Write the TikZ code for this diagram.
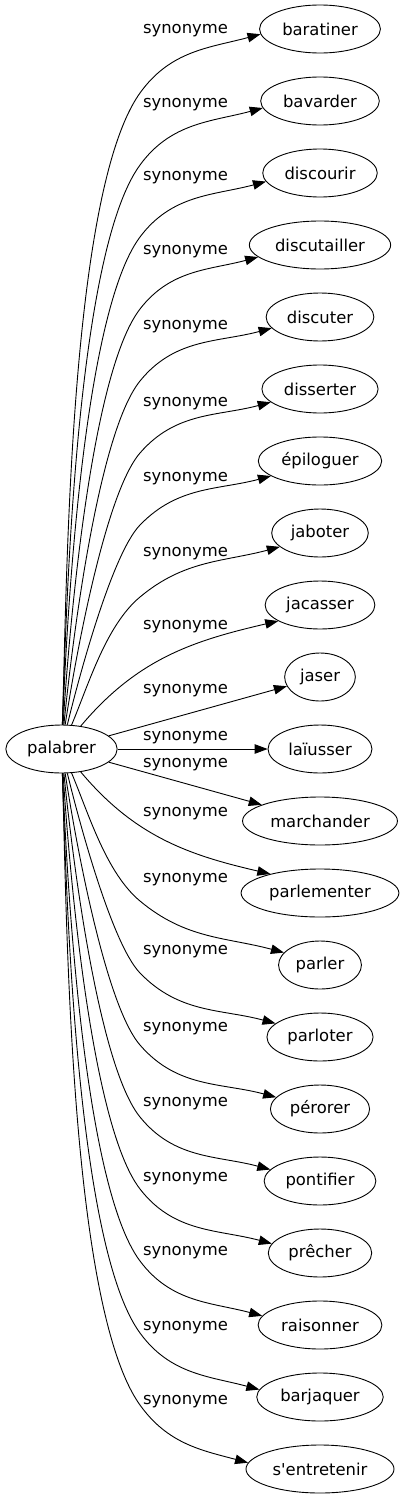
\documentclass[tikz,border=0pt]{standalone}
\usepackage{fontspec}
\newfontfamily\dejavu{DejaVu Sans}
\usetikzlibrary{arrows.meta,shapes.geometric}

\tikzset{
  word/.style={ellipse, draw, line width=0.9pt, minimum height=48pt, inner xsep=5pt,
    font=\dejavu\fontsize{16.4}{20}\selectfont},
  rel/.style={font=\dejavu\fontsize{16.4}{20}\selectfont, inner sep=1pt},
  syn/.style={draw, line width=0.9pt, -{Triangle[length=13pt,width=9.5pt]}}
}

\begin{document}
\begin{tikzpicture}[x=1pt,y=1pt]
  \useasboundingbox (0,0) rectangle (402,-1499);
  \node[word] (palabrer) at (61.5,-749) {palabrer};
  % targets and their edge labels
  \foreach \nm/\txt/\ly [count=\i from 0] in {
      baratiner/baratiner/31, bavarder/bavarder/105, discourir/discourir/178,
      discutailler/discutailler/252, discuter/discuter/327, disserter/disserter/404,
      epiloguer/épiloguer/479, jaboter/jaboter/554, jacasser/jacasser/627,
      jaser/jaser/691, laiusser/laïusser/738, marchander/marchander/765,
      parlementer/parlementer/814, parler/parler/880, parloter/parloter/952,
      perorer/pérorer/1029, pontifier/pontifier/1104, precher/prêcher/1179,
      raisonner/raisonner/1253, barjaquer/barjaquer/1328,
      sentretenir/s'entretenir/1402}{
    \pgfmathsetmacro\yt{29+72*\i}
    \node[word] (\nm) at (320,-\yt) {\txt};
    \node[rel] (lbl\i) at (185.5,-\ly) {synonyme};
  }
  % edges going up
  \foreach \nm [count=\i from 0] in {baratiner,bavarder,discourir,discutailler,
      discuter,disserter,epiloguer,jaboter}{
    \pgfmathsetmacro\yw{29+72*\i+64}
    \pgfmathsetmacro\ch{atan2(725-\yw,70)}
    \pgfmathsetmacro\ao{min(\ch+6,88)}
    \pgfmathsetmacro\aw{0.65*\ch}
    \pgfmathsetmacro\ai{\aw+180}
    \pgfmathsetmacro\at{185+2*\i}
    \pgfmathsetmacro\lo{max(0.5,min(0.8,100/(725-\yw)))}
    \coordinate (w\nm) at (140,-\yw);
    \draw[syn] (palabrer) to[out=\ao,in=\ai,looseness=\lo] (w\nm)
      to[out=\aw,in=195] (\nm.\at);
  }
  \draw[syn] (palabrer) to[out=50,in=193] (jacasser.201);
  \draw[syn] (palabrer) -- (jaser);
  \draw[syn] (palabrer) -- (laiusser);
  \draw[syn] (palabrer) -- (marchander);
  \draw[syn] (palabrer) to[out=-50,in=167] (parlementer.159);
  % edges going down
  \foreach \nm [count=\i from 13] in {parler,parloter,perorer,
      pontifier,precher,raisonner,barjaquer,sentretenir}{
    \pgfmathsetmacro\yw{29+72*\i-64}
    \pgfmathsetmacro\ch{atan2(\yw-773,70)}
    \pgfmathsetmacro\ao{-min(\ch+6,88)}
    \pgfmathsetmacro\aw{-0.65*\ch}
    \pgfmathsetmacro\ai{\aw+180}
    \pgfmathsetmacro\at{175-2*(20-\i)}
    \pgfmathsetmacro\lo{max(0.5,min(0.8,100/(\yw-773)))}
    \coordinate (w\nm) at (140,-\yw);
    \draw[syn] (palabrer) to[out=\ao,in=\ai,looseness=\lo] (w\nm)
      to[out=\aw,in=165] (\nm.\at);
  }
\end{tikzpicture}
\end{document}
